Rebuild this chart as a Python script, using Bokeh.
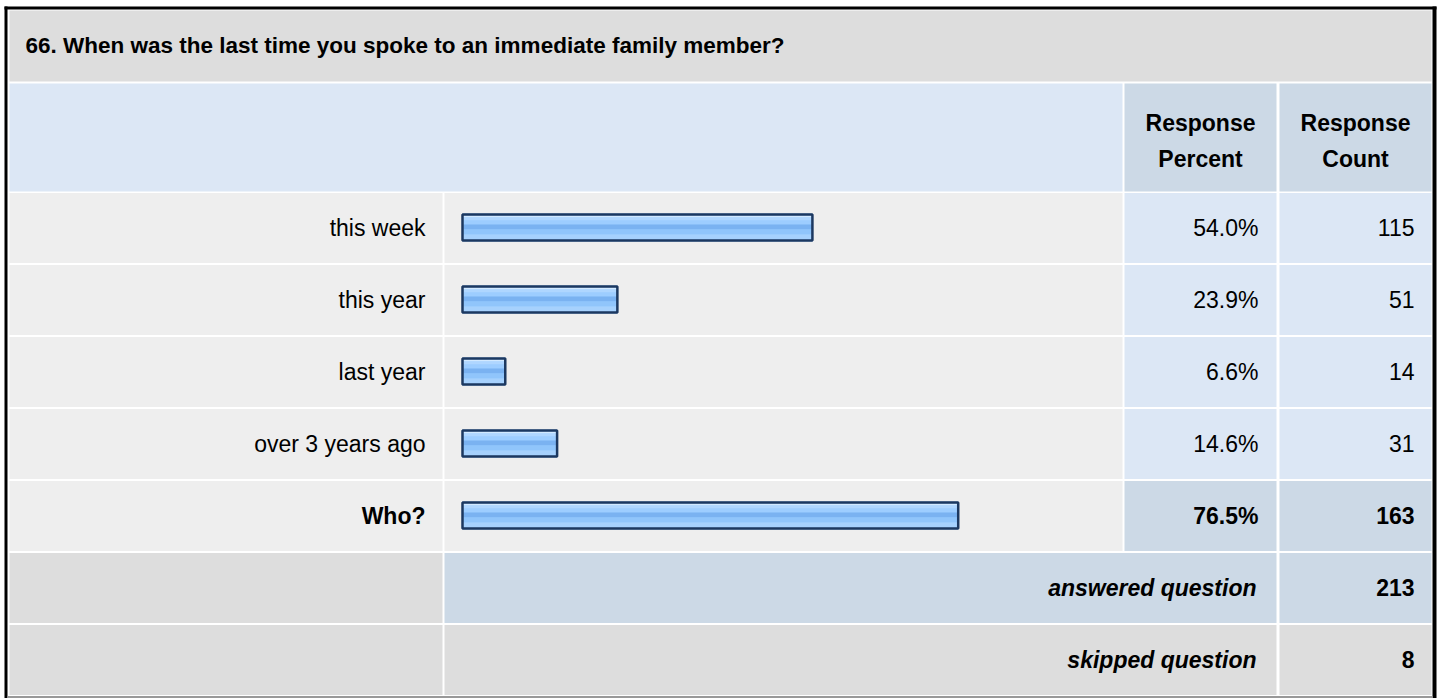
from bokeh.plotting import figure
from bokeh.models import Range1d, ColumnDataSource
from bokeh.core.properties import value
from bokeh.embed import file_html
from bokeh.resources import INLINE

# ---- survey data -------------------------------------------------------
question = "66. When was the last time you spoke to an immediate family member?"
categories = ["this week", "this year", "last year", "over 3 years ago", "Who?"]
percents = [54.0, 23.9, 6.6, 14.6, 76.5]
counts = [115, 51, 14, 31, 163]
header_percent = ["Response", "Percent"]
header_count = ["Response", "Count"]
summary_labels = ["answered question", "skipped question"]
summary_counts = [213, 8]

# ---- page geometry (pixels) -------------------------------------------
W, H = 1437, 698
FONT = value("Liberation Sans")
FS = "23px"
FS_TITLE = "22.5px"

X_LEFT, X_RIGHT = 9, 1431
COL_LABEL = (X_LEFT, 442)
COL_BAR = (444, 1122)
COL_PCT = (1124, 1276)
COL_CNT = (1279, X_RIGHT)
TITLE_Y = (10, 81)
HEAD_Y = (83, 191)
ROW_TOP0, ROW_STEP, ROW_H = 192.5, 72, 70

GRAY_DARK = "#dddddd"
GRAY_LIGHT = "#eeeeee"
BLUE_LIGHT = "#dce7f5"
BLUE_MID = "#ccd9e6"

p = figure(width=W, height=H, x_range=Range1d(0, W), y_range=Range1d(H, 0),
           output_backend="svg", toolbar_location=None, min_border=0,
           background_fill_color="white", border_fill_color="white")
p.axis.visible = False
p.grid.visible = False
p.outline_line_color = None

# bar scale: percent -> pixels within the bar column
BAR_X0, PX_PER_PCT = 462, 6.48
p.extra_x_ranges = {"pct": Range1d(-BAR_X0 / PX_PER_PCT, (W - BAR_X0) / PX_PER_PCT)}


def cell(x0, x1, y0, y1, color):
    p.quad(left=x0, right=x1, top=y0, bottom=y1, fill_color=color, line_color=None)


def row_bounds(i):
    top = ROW_TOP0 + i * ROW_STEP
    return top, top + ROW_H


# outer frame
cell(4, 1436, 6, 9, "#000000")
cell(4, 7, 6, 698, "#000000")
cell(1432, 1436, 6, 698, "#000000")
cell(7, 1432, 695.5, 698, "#999999")

# title and header
cell(X_LEFT, X_RIGHT, *TITLE_Y, GRAY_DARK)
cell(X_LEFT, COL_BAR[1], *HEAD_Y, BLUE_LIGHT)
cell(*COL_PCT, *HEAD_Y, BLUE_MID)
cell(*COL_CNT, *HEAD_Y, BLUE_MID)

p.text(x=[25], y=[(TITLE_Y[0] + TITLE_Y[1]) / 2 - 0.5], text=[question],
       text_font=FONT, text_font_size=FS_TITLE, text_font_style="bold",
       text_align="left", text_baseline="middle", text_color="#000000")

head_mid = (HEAD_Y[0] + HEAD_Y[1]) / 2
for col, lines in ((COL_PCT, header_percent), (COL_CNT, header_count)):
    cx = (col[0] + col[1]) / 2
    p.text(x=[cx, cx], y=[head_mid - 14.5, head_mid + 21.5], text=lines,
           text_font=FONT, text_font_size=FS, text_font_style="bold",
           text_align="center", text_baseline="middle", text_color="#000000")

# answer rows
n = len(categories)
for i in range(n):
    y0, y1 = row_bounds(i)
    last = i == n - 1
    cell(*COL_LABEL, y0, y1, GRAY_LIGHT)
    cell(*COL_BAR, y0, y1, GRAY_LIGHT)
    cell(*COL_PCT, y0, y1, BLUE_MID if last else BLUE_LIGHT)
    cell(*COL_CNT, y0, y1, BLUE_MID if last else BLUE_LIGHT)

centers = [row_bounds(i)[0] + ROW_H / 2 - 0.5 for i in range(n)]
src = ColumnDataSource(dict(
    y=centers, left=[0] * n, right=percents,
    cat=categories, pct=[f"{v:.1f}%" for v in percents], cnt=[str(c) for c in counts],
    style=["bold" if i == n - 1 else "normal" for i in range(n)],
))

# bars: gradient built from horizontal stripes, then a dark outline
p.hbar(y="y", left="left", right="right", height=28, source=src, x_range_name="pct",
       fill_color="#99ccff", line_color=None)
stripes = [(-11.0, 2, "#d2e9ff"), (-8.5, 3, "#afd6ff"), (-5.0, 4, "#9dcdff"),
           (-0.5, 5, "#7ab2f1"), (4.5, 5, "#90c5fb"), (9.5, 5, "#a6d1fd")]
for off, h, col in stripes:
    p.hbar(y=[c + off for c in centers], left=[0] * n, right=percents, height=h,
           x_range_name="pct", fill_color=col, line_color=None)
p.hbar(y="y", left="left", right="right", height=26, source=src, x_range_name="pct",
       fill_alpha=0, line_color="#1c3860", line_width=2.5)

p.text(x=425, y="y", text="cat", source=src, text_font=FONT, text_font_size=FS,
       text_font_style="style", text_align="right", text_baseline="middle", text_color="#000000")
p.text(x=1258, y="y", text="pct", source=src, text_font=FONT, text_font_size=FS,
       text_font_style="style", text_align="right", text_baseline="middle", text_color="#000000")
p.text(x=1414, y="y", text="cnt", source=src, text_font=FONT, text_font_size=FS,
       text_font_style="style", text_align="right", text_baseline="middle", text_color="#000000")

# summary rows
for j, (lab, cnt) in enumerate(zip(summary_labels, summary_counts)):
    y0, y1 = row_bounds(n + j)
    mid_color = BLUE_MID if j == 0 else GRAY_DARK
    cell(*COL_LABEL, y0, y1, GRAY_DARK)
    cell(COL_BAR[0], COL_PCT[1], y0, y1, mid_color)
    cell(*COL_CNT, y0, y1, mid_color)
    yc = (y0 + y1) / 2 - 0.5
    p.text(x=[1256], y=[yc], text=[lab], text_font=FONT, text_font_size=FS,
           text_font_style="bold italic", text_align="right", text_baseline="middle",
           text_color="#000000")
    p.text(x=[1414], y=[yc], text=[str(cnt)], text_font=FONT, text_font_size=FS,
           text_font_style="bold", text_align="right", text_baseline="middle",
           text_color="#000000")

open("out.html", "w").write(file_html(p, INLINE))
